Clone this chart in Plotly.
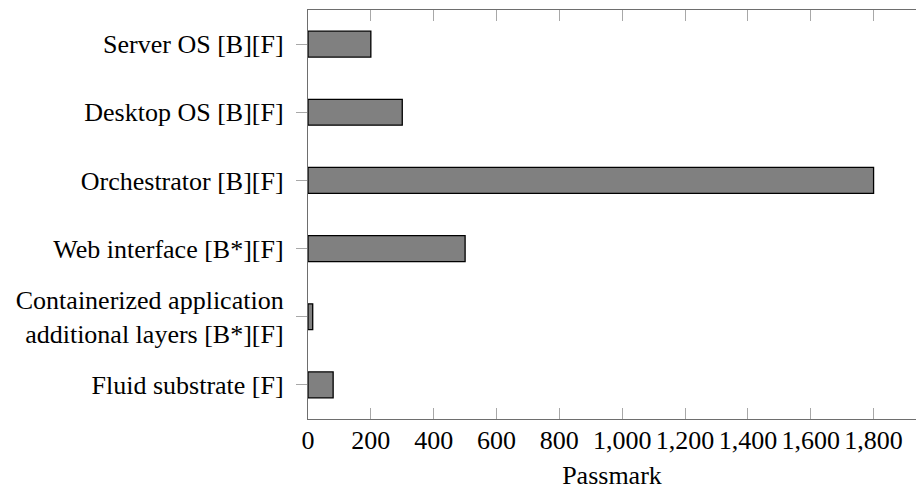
import plotly.graph_objects as go

categories = [
    "Server OS [B][F]",
    "Desktop OS [B][F]",
    "Orchestrator [B][F]",
    "Web interface [B*][F]",
    "Containerized application<br>additional layers [B*][F]",
    "Fluid substrate [F]",
]
values = [200, 300, 1800, 500, 15, 80]
x_ticks = [0, 200, 400, 600, 800, 1000, 1200, 1400, 1600, 1800]
x_tick_labels = ["0", "200", "400", "600", "800", "1,000", "1,200", "1,400", "1,600", "1,800"]

FONT = "Liberation Serif, Times New Roman, serif"
AXIS_COLOR = "#6e6e6e"
TICK_COLOR = "#a8a8a8"
X_RANGE = [0, 1935]

fig = go.Figure()
fig.add_trace(go.Bar(
    x=values, y=categories, orientation="h", width=0.38,
    marker=dict(color="#808080", line=dict(color="#000000", width=1.3)),
    showlegend=False, hoverinfo="skip",
))
fig.add_trace(go.Scatter(x=[], y=[], xaxis="x2", yaxis="y", showlegend=False, hoverinfo="skip"))

fig.update_layout(
    width=908, height=482,
    margin=dict(l=300, r=0, t=2, b=71),
    paper_bgcolor="white", plot_bgcolor="white",
    font=dict(family=FONT, size=26, color="black"),
    xaxis=dict(
        range=X_RANGE, tickvals=x_ticks, ticktext=x_tick_labels, tickangle=0,
        showgrid=False, zeroline=False, showline=True, linecolor=AXIS_COLOR, linewidth=1.3,
        ticks="inside", ticklen=11, tickcolor=TICK_COLOR, tickwidth=1,
        tickfont=dict(family=FONT, size=26, color="black"),
        automargin=False, ticklabelstandoff=-2,
        title=dict(text="Passmark", font=dict(family=FONT, size=26, color="black"), standoff=15),
    ),
    xaxis2=dict(
        range=X_RANGE, tickvals=x_ticks, overlaying="x", side="top", matches="x",
        showgrid=False, zeroline=False, showline=True, linecolor=AXIS_COLOR, linewidth=1.3,
        ticks="inside", ticklen=11, tickcolor=TICK_COLOR, tickwidth=1, showticklabels=False,
    ),
    yaxis=dict(
        type="category", categoryorder="array", categoryarray=categories,
        range=[5.5, -0.5], automargin=False,
        showgrid=False, zeroline=False, showline=True, linecolor=AXIS_COLOR, linewidth=1.3,
        ticks="outside", ticklen=11, tickcolor=TICK_COLOR, tickwidth=1,
        ticklabelstandoff=7,
        tickfont=dict(family=FONT, size=26, color="black"),
    ),
)

fig.write_html("out.html")
